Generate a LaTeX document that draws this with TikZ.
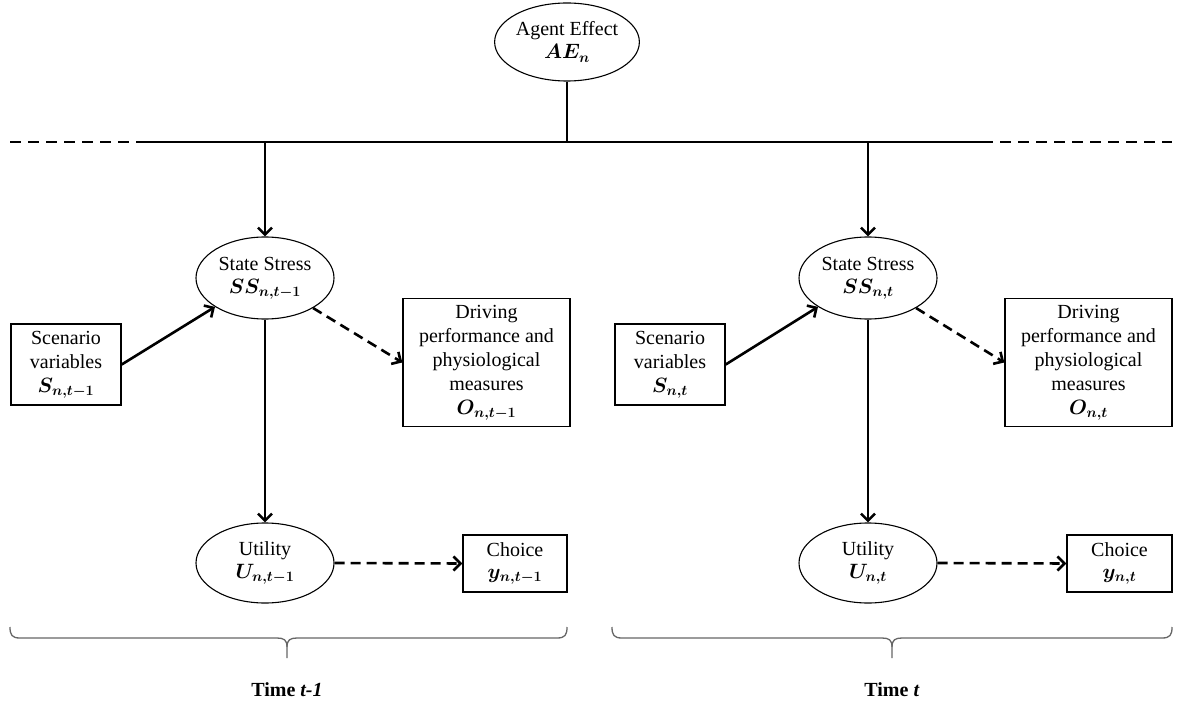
\documentclass[tikz,border=0pt]{standalone}
\usepackage{fontspec}
\usepackage{bm}
\setmainfont{Liberation Serif}
\usetikzlibrary{shapes.geometric,arrows.meta}
\newcommand{\bmath}[1]{{\boldmath$#1$}}
\begin{document}
\begin{tikzpicture}[x=1pt,y=-1pt,
  every node/.style={font=\fontsize{20}{24}\selectfont, inner sep=0pt, align=center},
  ell/.style={ellipse, draw, line width=1.1pt, minimum width=138pt, minimum height=80pt},
  boxn/.style={rectangle, draw, line width=1.4pt},
  arr/.style={line width=2.6pt, -{Straight Barb[length=7pt,width=14pt,line width=2.6pt]}},
  darr/.style={arr, dash pattern=on 10pt off 6pt},
  brc/.style={line width=1.3pt, draw=black!60},
  timelab/.style={font=\fontsize{20}{24}\selectfont\bfseries}
]
\useasboundingbox (0,0) rectangle (1182,708);

% top
\node[ell, minimum height=78pt] (ae) at (567,42) {Agent Effect\\[-1pt]\bmath{AE_{n}}};
\coordinate (jn) at (567,142);
\coordinate (dl) at (10,142);
\coordinate (dr) at (1172,142);
\coordinate (sl) at (145,142);
\coordinate (sr) at (990,142);
\coordinate (tl) at (265,142);
\coordinate (tr) at (868,142);
\draw[line width=2.6pt, dash pattern=on 11pt off 7pt] (dl) -- (dr);
\draw[line width=2.8pt] (sl) -- (sr);
\draw[line width=2.6pt] (ae.south) -- (jn);

% left block (time t-1)
\node[ell, minimum height=82pt] (ssL) at (265,278) {State Stress\\[-1pt]\bmath{SS_{n,t-1}}};
\node[boxn, minimum width=110pt, minimum height=81pt] (scL) at (66,364.5) {Scenario\\variables\\\bmath{S_{n,t-1}}};
\node[boxn, minimum width=167pt, minimum height=128pt] (drL) at (486.5,362.5) {Driving\\performance and\\physiological\\measures\\\bmath{O_{n,t-1}}};
\node[ell] (utL) at (265,563) {Utility\\[-1pt]\bmath{U_{n,t-1}}};
\node[boxn, minimum width=104pt, minimum height=57pt] (chL) at (515,563.5) {Choice\\[-2pt]\bmath{y_{n,t-1}}};

\draw[arr] (tl) -- (ssL.north);
\draw[arr] (scL.east) -- (ssL.210);
\draw[darr] (ssL.-32) -- (drL.west);
\draw[arr] (ssL.south) -- (utL.north);
\draw[darr] (utL.east) -- (chL.west);

% right block (time t)
\node[ell, minimum height=82pt] (ssR) at (868,278) {State Stress\\[-1pt]\bmath{SS_{n,t}}};
\node[boxn, minimum width=110pt, minimum height=81pt] (scR) at (670,364.5) {Scenario\\variables\\\bmath{S_{n,t}}};
\node[boxn, minimum width=167pt, minimum height=128pt] (drR) at (1088.5,362.5) {Driving\\performance and\\physiological\\measures\\\bmath{O_{n,t}}};
\node[ell] (utR) at (868,563) {Utility\\[-1pt]\bmath{U_{n,t}}};
\node[boxn, minimum width=105pt, minimum height=57pt] (chR) at (1119.5,563.5) {Choice\\[-2pt]\bmath{y_{n,t}}};

\draw[arr] (tr) -- (ssR.north);
\draw[arr] (scR.east) -- (ssR.210);
\draw[darr] (ssR.-32) -- (drR.west);
\draw[arr] (ssR.south) -- (utR.north);
\draw[darr] (utR.east) -- (chR.west);

% braces
\draw[brc] (10,627) .. controls (10,635) and (12,638) .. (20,638) -- (277,638)
  .. controls (284,638) and (287,640) .. (287,647) -- (287,658);
\draw[brc] (567,627) .. controls (567,635) and (565,638) .. (557,638) -- (297,638)
  .. controls (290,638) and (287,640) .. (287,647);
\draw[brc] (612,627) .. controls (612,635) and (614,638) .. (622,638) -- (882,638)
  .. controls (889,638) and (892,640) .. (892,647) -- (892,658);
\draw[brc] (1172,627) .. controls (1172,635) and (1170,638) .. (1162,638) -- (902,638)
  .. controls (895,638) and (892,640) .. (892,647);

\node[timelab] (timeL) at (287,690) {Time \textit{t-1}};
\node[timelab] (timeR) at (892,690) {Time \textit{t}};
\end{tikzpicture}
\end{document}
